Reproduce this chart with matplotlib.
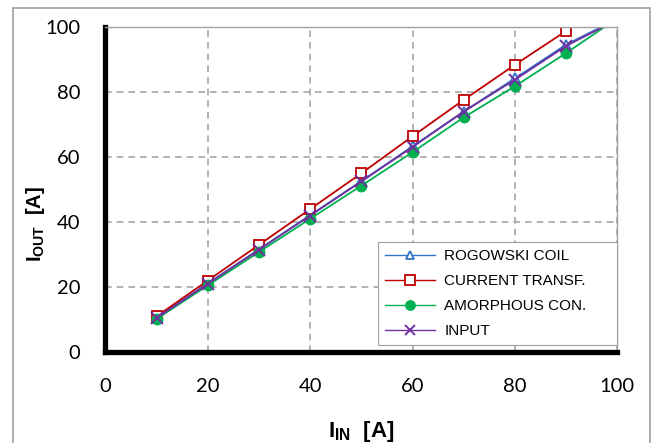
import matplotlib
matplotlib.use('Agg')
import matplotlib.pyplot as plt
from matplotlib.patches import Rectangle

# input current [A]
i_in = [10, 20, 30, 40, 50, 60, 70, 80, 90, 100]

# measured output current [A] for each sensor
rogowski = [10.6, 21.1, 31.6, 42.1, 52.6, 63.3, 74.0, 84.2, 94.6, 102.5]
current_tr = [11.0, 22.0, 33.0, 44.0, 55.0, 66.4, 77.6, 88.4, 98.8, 110.0]
amorphous = [10.2, 20.5, 30.8, 41.0, 51.2, 61.5, 72.2, 81.8, 92.0, 102.7]
input_ref = [10.5, 21.0, 31.5, 42.0, 52.5, 63.1, 74.0, 83.8, 94.2, 102.3]

ticks = [0, 20, 40, 60, 80, 100]

plt.rcParams['mathtext.fontset'] = 'custom'
plt.rcParams['mathtext.rm'] = 'Liberation Sans'
plt.rcParams['mathtext.bf'] = 'Liberation Sans:bold'

fig = plt.figure(figsize=(6.54, 4.43), dpi=100)
ax = fig.add_axes([0.1613, 0.2054, 0.7827, 0.7336])

# outer chart frame
fig.patches.append(Rectangle((13/654, -0.05), 637/654, 1.05 - 8/443, transform=fig.transFigure,
                             fill=False, edgecolor='#A0A0A0', linewidth=1.2))

lw = 1.3
ax.plot(i_in, rogowski, color='#2E75C8', lw=lw, marker='^', ms=7, mfc='white', mec='#2E75C8', mew=1.3,
        label='ROGOWSKI COIL')
ax.plot(i_in, current_tr, color='#C00000', lw=lw, marker='s', ms=7.5, mfc='white', mec='#C00000', mew=1.3,
        label='CURRENT TRANSF.')
ax.plot(i_in, amorphous, color='#00B050', lw=lw, marker='o', ms=7.5, mfc='#00B050', mec='#00B050',
        label='AMORPHOUS CON.')
ax.plot(i_in, input_ref, color='#7030A0', lw=lw, marker='x', ms=8, mew=1.4,
        label='INPUT')

ax.set_xlim(0, 100)
ax.set_ylim(0, 100)
ax.set_xticks(ticks)
ax.set_yticks(ticks)
ax.grid(True, color='#A6A6A6', linestyle=(0, (4, 3)), linewidth=1.2)
ax.set_axisbelow(True)
ax.tick_params(length=0, labelsize=14.5)
ax.tick_params(axis='x', pad=19)
ax.tick_params(axis='y', pad=18)
for lbl in ax.get_xticklabels() + ax.get_yticklabels():
    lbl.set_family('Lato')

for s in ['left', 'bottom']:
    ax.spines[s].set_linewidth(3.8)
    ax.spines[s].set_color('black')
for s in ['top', 'right']:
    ax.spines[s].set_linewidth(1.0)
    ax.spines[s].set_color('#A0A0A0')

ax.set_xlabel(r'$\mathbf{I_{IN}}$  [A]', fontsize=16, fontweight='bold', family='Liberation Sans')
ax.set_ylabel(r'$\mathbf{I_{OUT}}$  [A]', fontsize=14.5, fontweight='bold', family='Liberation Sans')
ax.xaxis.set_label_coords(0.5, -0.205)
ax.yaxis.set_label_coords(-0.114, 0.394)

leg = ax.legend(loc='lower left', bbox_to_anchor=(0.532, 0.022, 0.468, 0.332), mode='expand',
                borderaxespad=0, prop={'family': 'Liberation Sans', 'size': 11}, handlelength=3.3,
                labelspacing=0.72, fancybox=False, framealpha=1, edgecolor='#A0A0A0',
                borderpad=0.45, handletextpad=0.6, markerscale=0.9)
leg.get_frame().set_linewidth(0.8)
for h in leg.get_lines():
    h.set_linewidth(1.0)

fig.savefig('out.png', dpi=100)
